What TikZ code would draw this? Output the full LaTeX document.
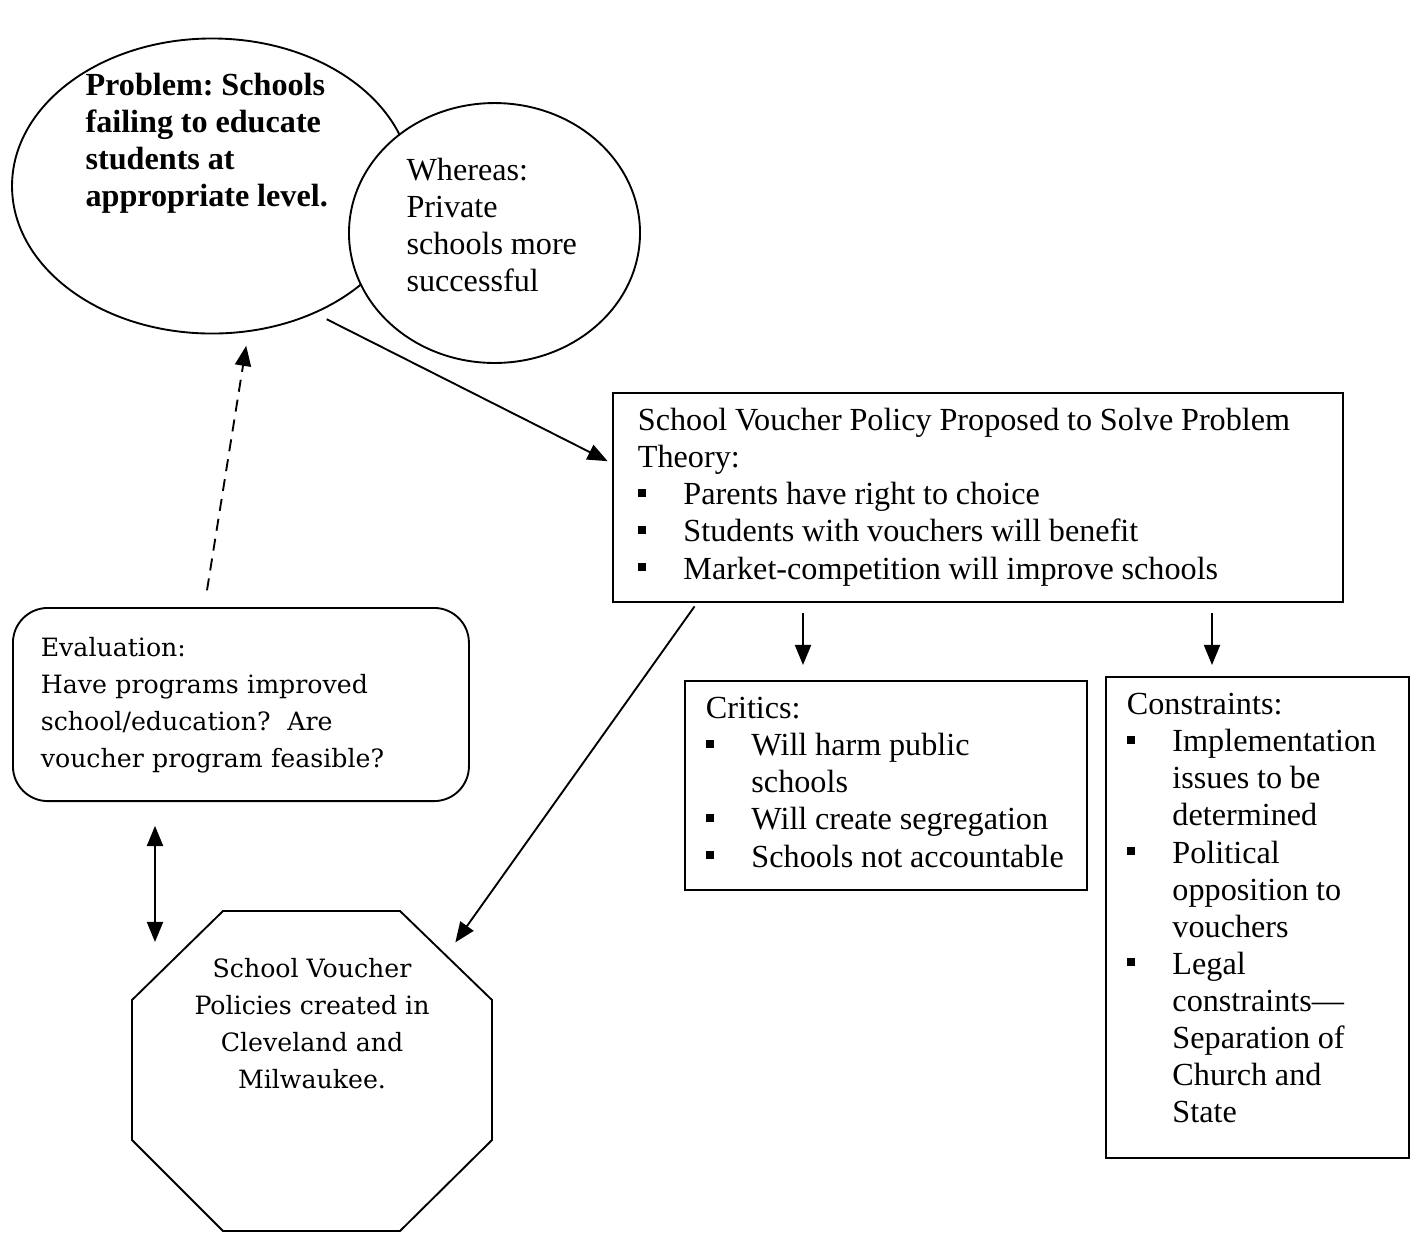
\documentclass[tikz,border=0pt]{standalone}
\usepackage{fontspec}
\setmainfont{Liberation Serif}
\newfontfamily\evalfont{DejaVu Serif}
\usetikzlibrary{positioning,shapes.geometric,arrows.meta,calc}
\setlength{\parindent}{0pt}
\frenchspacing
\newcommand{\bodyfont}{\fontsize{12}{13.8}\selectfont}
\newcommand{\boldfont}{\bfseries\fontsize{12}{13.8}\selectfont}
\tikzstyle{lineStyle} = [line width=0.7pt]
\tikzstyle{arrowStyle} = [lineStyle, -{Triangle[length=7.5pt,width=6pt]}]
\tikzstyle{dblArrowStyle} = [lineStyle, {Triangle[length=7.5pt,width=6pt]}-{Triangle[length=7.5pt,width=6pt]}]
\tikzstyle{dashArrowStyle} = [arrowStyle, dash pattern=on 4.5pt off 3pt]
\tikzstyle{raggedText} = [execute at begin node={\raggedright\hyphenpenalty=10000\spaceskip=2.9pt\xspaceskip=2.9pt\relax}]
\tikzstyle{boxStyle} = [draw, lineStyle, rectangle, anchor=north west, inner xsep=7.8pt, inner ysep=4.5pt, raggedText, font=\bodyfont]
\tikzstyle{bubbleStyle} = [draw, lineStyle, ellipse, inner sep=0pt]
\tikzstyle{plainText} = [anchor=north west, inner sep=0pt, raggedText, font=\bodyfont]
\tikzstyle{evalText} = [font=\evalfont\fontsize{9.4}{13.8}\selectfont]
\newcommand{\bsq}{\rule[3pt]{3pt}{3pt}}
\newcommand{\bitem}[1]{\par\hangindent=17pt\hangafter=1\noindent\makebox[17pt][l]{\bsq}#1}
\newcommand{\deepstrut}{\rule[-8.9pt]{0pt}{1pt}}

\begin{document}
\begin{tikzpicture}[x=0.3728pt, y=-0.3728pt]
  \useasboundingbox (0,0) rectangle (1419,1232);
  \node[bubbleStyle, minimum width=149.1pt, minimum height=110pt] (problem) at (212,186) {};
  \node[bubbleStyle, fill=white, minimum width=108.5pt, minimum height=96.9pt] (whereas) at (494.5,233) {};
  \node[plainText, text width=120pt, font=\boldfont] (problemText) at (85,69) {\strut Problem: Schools\newline failing to educate\newline students at\newline appropriate level.};
  \node[plainText, text width=80pt] (whereasText) at (406,154) {\strut Whereas:\newline Private\newline schools more\newline successful};

  \node[boxStyle, inner xsep=9.3pt, text width=253.5pt] (mainbox) at (612,392) {\strut School Voucher Policy Proposed to Solve Problem\newline Theory:\bitem{Parents have right to choice}\bitem{Students with vouchers will benefit}\bitem{Market-competition will improve schools\strut}\par};
  \node[boxStyle, text width=134.3pt] (critics) at (684,680) {\strut Critics:\bitem{Will harm public\newline schools}\bitem{Will create segregation}\bitem{Schools not accountable\strut}\par};
  \node[boxStyle, text width=97.4pt] (constraints) at (1105,676) {\strut Constraints:\bitem{Implementation\newline issues to be\newline determined}\bitem{Political\newline opposition to\newline vouchers}\bitem{Legal\newline constraints---\newline Separation of\newline Church and\newline State\deepstrut}\par};

  \node[draw, lineStyle, rounded corners=13pt, anchor=north west, minimum width=170pt, minimum height=72pt, text width=149.2pt, inner xsep=10.4pt, execute at begin node={\raggedright}, evalText] (eval) at (12,607) {\strut Evaluation:\newline Have programs improved\newline school/education?~~Are\newline voucher program feasible?\strut};

  \coordinate (oct1) at (223,911);
  \coordinate (oct2) at (400,911);
  \coordinate (oct3) at (492,1000);
  \coordinate (oct4) at (492,1140);
  \coordinate (oct5) at (400,1231);
  \coordinate (oct6) at (223,1231);
  \coordinate (oct7) at (132,1140);
  \coordinate (oct8) at (132,1000);
  \draw[lineStyle] (oct1) -- (oct2) -- (oct3) -- (oct4) -- (oct5) -- (oct6) -- (oct7) -- (oct8) -- cycle;
  \node[evalText, align=center, inner sep=0pt] (policies) at (312,1026) {\strut School Voucher\\ Policies created in\\ Cleveland and\\ Milwaukee.\strut};

  \coordinate (critHook) at (803,0);
  \coordinate (consHook) at (1212,0);
  \coordinate (dblHook) at (155,0);
  \coordinate (dblEnd) at (155,942);

  \draw[arrowStyle, shorten <=4.8pt, shorten >=1.8pt] (problem.-51) -- ($(mainbox.north west)!0.338!(mainbox.south west)$);
  \draw[dashArrowStyle, shorten <=6.3pt, shorten >=5.2pt] ($(eval.north west)!0.42!(eval.north east)$) -- (problem.-76);
  \draw[arrowStyle, shorten <=3.7pt, shorten >=5.6pt] (mainbox.south -| critHook) -- (critics.north -| critHook);
  \draw[arrowStyle, shorten <=3.7pt, shorten >=4.1pt] (mainbox.south -| consHook) -- (constraints.north -| consHook);
  \draw[arrowStyle, shorten <=1.5pt, shorten >=6pt] ($(mainbox.south west)!0.116!(mainbox.south east)$) -- ($(oct2)!0.5!(oct3)$);
  \draw[dblArrowStyle, shorten <=8.9pt] (eval.south -| dblHook) -- (dblEnd);
\end{tikzpicture}
\end{document}
